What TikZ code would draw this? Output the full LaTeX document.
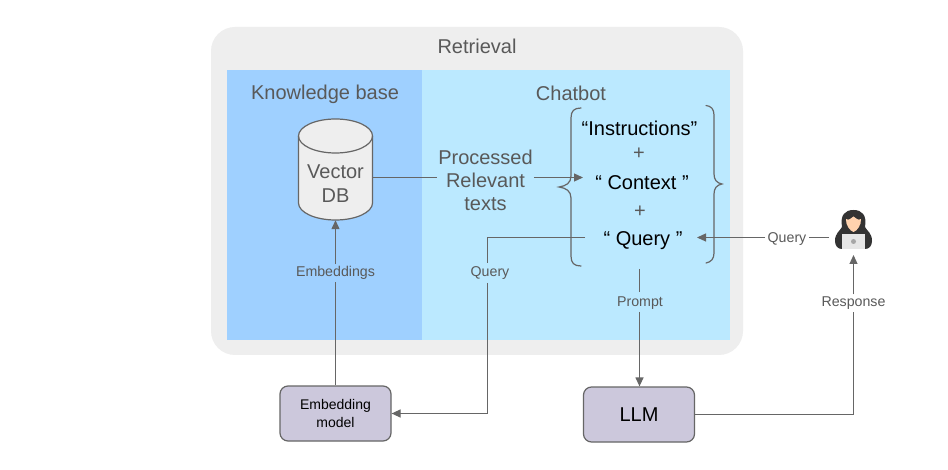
\documentclass[tikz,border=0pt]{standalone}
\usepackage{fontspec}
\setmainfont{Liberation Sans}
\usetikzlibrary{arrows.meta}
\definecolor{panelgray}{HTML}{EEEEEE}
\definecolor{kbblue}{HTML}{9FD0FF}
\definecolor{chatblue}{HTML}{BBE9FF}
\definecolor{boxlilac}{HTML}{CCC8DC}
\definecolor{ink}{HTML}{595959}
\definecolor{edge}{HTML}{666666}
\definecolor{hood}{HTML}{333333}
\definecolor{face}{HTML}{FFD2AE}
\definecolor{laptop}{HTML}{E6E6E6}
\definecolor{logo}{HTML}{A6A6A6}
\tikzset{
  x=1pt,y=-1pt,
  lbl/.style={text=ink,font=\fontsize{14.2}{16}\selectfont,inner sep=2pt,align=center},
  title/.style={text=ink,font=\fontsize{20}{23}\selectfont,inner sep=0pt,align=center},
  prompttext/.style={text=black,font=\fontsize{20}{23}\selectfont,inner sep=0pt},
  plus/.style={text=ink,font=\fontsize{20}{23}\selectfont,inner sep=0pt},
  conn/.style={draw=edge,line width=1.2pt},
  arrow/.style={conn,-{Triangle[width=8pt,length=9pt]}},
  modelbox/.style={draw=edge,line width=1.2pt,fill=boxlilac,rounded corners=8pt,inner sep=0pt,align=center,text=black},
  brace/.style={draw=edge,line width=1.2pt,line cap=round}
}
\begin{document}
\begin{tikzpicture}
\useasboundingbox (0,0) rectangle (948,470);
\fill[white] (0,0) rectangle (948,470);
\fill[panelgray,rounded corners=24pt] (211,27) rectangle (743,355);
\fill[kbblue] (227,70) rectangle (422,340);
\fill[chatblue] (422,70) rectangle (730,340);

\node[title] (retr) at (477,46) {Retrieval};
\node[title] (kb) at (325,94.500) {Knowledge base};
\node[title] (chat) at (571,93) {Chatbot};

% vector DB
\path[draw=edge,line width=1.2pt,fill=panelgray] (298.500,136) -- (298.500,203)
  arc[start angle=180,end angle=360,x radius=37,y radius=-17] -- (372.500,136)
  arc[start angle=0,end angle=180,x radius=37,y radius=-17] -- cycle;
\path[draw=edge,line width=1.2pt] (298.500,136) arc[start angle=180,end angle=360,x radius=37,y radius=-17];
\node[minimum width=74pt,minimum height=101pt,inner sep=0pt] (db) at (335.500,169.500) {};
\node[text=ink,font=\fontsize{20}{24}\selectfont,inner sep=0pt,align=center] (dbtext) at (335.500,184) {Vector\\DB};

% bottom boxes
\node[modelbox,minimum width=111pt,minimum height=55pt,font=\fontsize{14}{18}\selectfont] (emb) at (335.500,413.500) {Embedding\\model};
\node[modelbox,minimum width=111pt,minimum height=55pt,font=\fontsize{20}{23}\selectfont] (llm) at (639,414.500) {LLM};

% prompt stack
\node[prompttext] (instr) at (639.500,128) {“Instructions”};
\node[plus] (p1) at (639,154) {+};
\node[prompttext] (ctx) at (642,183) {“ Context ”};
\node[plus] (p2) at (640,212) {+};
\node[prompttext] (qry) at (643,241) {“ Query ”};

% braces
\draw[brace] (581,108) .. controls (574,108) and (571,111) .. (571,118) -- (571,176)
  .. controls (571,183) and (566,186) .. (559,187) .. controls (566,188) and (571,191) .. (571,198) -- (571,256)
  .. controls (571,263) and (574,266) .. (581,266);
\draw[brace] (706,105.500) .. controls (711,106) and (714,109) .. (714,115) -- (714,174)
  .. controls (714,180) and (717,183) .. (722,184) .. controls (717,185) and (714,188) .. (714,194) -- (714,253)
  .. controls (714,259) and (711,262) .. (706,263);

% hacker icon
\fill[hood] (835,241) .. controls (835,233) and (840,231) .. (842,227)
  .. controls (840,215) and (845,210) .. (853.500,210) .. controls (862,210) and (867,215) .. (865,227)
  .. controls (867,231) and (872,233) .. (872,241) .. controls (872,246) and (869,249) .. (865,249) -- (842,249) .. controls (838,249) and (835,246) .. (835,241) -- cycle;
\fill[face] (846,219) .. controls (849,221) and (851,218) .. (853.500,216.500) .. controls (856,218) and (858,221) .. (861,219) .. controls (861.500,225) and (857,231) .. (853.500,232) .. controls (850,231) and (845.500,225) .. (846,219) -- cycle;
\fill[laptop] (842,234) rectangle (865,249.500);
\fill[logo] (853.500,241.500) circle (2.500);

% labels on connectors
\node[title,inner xsep=1pt] (texts) at (485.500,180.500) {Processed\\Relevant\\texts};
\node[lbl] (lemb) at (335.500,273) {Embeddings};
\node[lbl] (lq1) at (490,273) {Query};
\node[lbl] (lprompt) at (640,303) {Prompt};
\node[lbl] (lresp) at (853.500,303) {Response};
\node[lbl] (lq2) at (787,239) {Query};

% connector way points
\coordinate (qstart) at (585,237.500);
\coordinate (qup) at (487.500,263);
\coordinate (qdown) at (487.500,283);
\coordinate (pstart) at (639.500,269);
\coordinate (pmid) at (639.500,312);
\coordinate (ptop) at (639.500,292);
\coordinate (ctxin) at (583,177.500);
\coordinate (userbottom) at (853.500,255);
\coordinate (userleft) at (829,237.500);
\coordinate (qlabr) at (809,237.500);
\coordinate (qlabl) at (765,237.500);
\coordinate (qin) at (697,237.500);

% connectors
\draw[conn] (db.east |- ctxin) -- (texts.west |- ctxin);
\draw[arrow] (texts.east |- ctxin) -- (ctxin);
\draw[conn] (emb.north) -- (lemb.south);
\draw[arrow] (lemb.north) -- (db.south);
\draw[conn] (qstart) -| (qup);
\draw[arrow] (qdown) |- (emb.east);
\draw[conn] (pstart) -- (ptop);
\draw[arrow] (pmid) -- (pmid |- llm.north);
\draw[conn] (llm.east) -| (lresp.south);
\draw[arrow] (lresp.north) -- (userbottom);
\draw[conn] (userleft) -- (qlabr);
\draw[arrow] (qlabl) -- (qin);
\end{tikzpicture}
\end{document}
